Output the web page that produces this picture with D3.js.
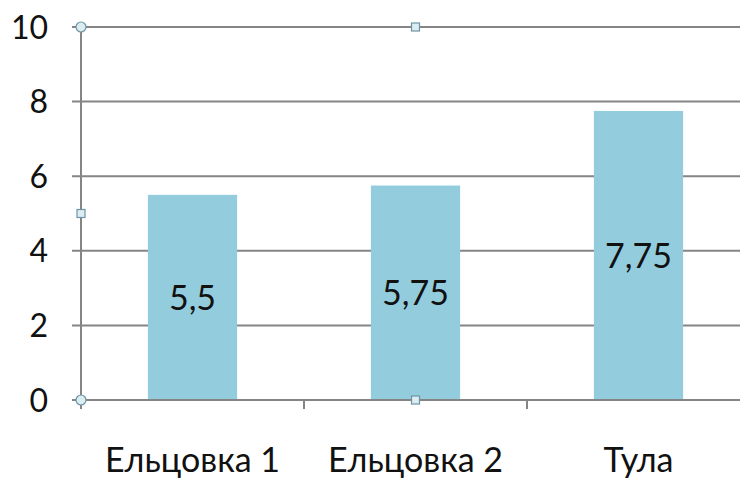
<!DOCTYPE html>
<html>
<head>
<meta charset="utf-8">
<script src="https://cdn.jsdelivr.net/npm/d3@7"></script>
<style>
  html, body { margin: 0; padding: 0; background: #fff; }
  svg { display: block; }
  text { font-family: Lato, "Open Sans", sans-serif; fill: #111; }
</style>
</head>
<body>
<svg id="chart" width="740" height="479"></svg>
<script>
const categories = ["Ельцовка 1", "Ельцовка 2", "Тула"];
const values = [5.5, 5.75, 7.75];
const yTicks = [0, 2, 4, 6, 8, 10];

const svg = d3.select("#chart");
const plotLeft = 81, plotRight = 750, plotTop = 27, plotBottom = 400;

const x = d3.scaleBand().domain(categories).range([plotLeft, plotRight])
  .paddingInner(0.6).paddingOuter(0.3);
const y = d3.scaleLinear().domain([0, 10]).range([plotBottom, plotTop]);

const grid = "#858585";
const fmt = v => String(v).replace(".", ",");
const capRatio = 0.72; // cap height of the label font relative to its size

// horizontal gridlines with short ticks left of the axis
svg.append("g").selectAll("line").data(yTicks).join("line")
  .attr("x1", plotLeft - 9).attr("x2", 740)
  .attr("y1", d => y(d)).attr("y2", d => y(d))
  .attr("stroke", grid).attr("stroke-width", 2);

// y tick labels
const yFont = 32;
svg.append("g").selectAll("text").data(yTicks).join("text")
  .attr("x", 48).attr("y", d => y(d) + yFont * capRatio / 2)
  .attr("text-anchor", "end")
  .attr("font-size", yFont)
  .text(d => d);

// bars
svg.append("g").selectAll("rect").data(values).join("rect")
  .attr("x", (d, i) => x(categories[i]))
  .attr("width", x.bandwidth())
  .attr("y", d => y(d))
  .attr("height", d => y(0) - y(d))
  .attr("fill", "#93CDDD");

// baseline redrawn over the bars
svg.append("line")
  .attr("x1", plotLeft).attr("x2", 740)
  .attr("y1", y(0)).attr("y2", y(0))
  .attr("stroke", grid).attr("stroke-width", 2);

// vertical axis
svg.append("line")
  .attr("x1", plotLeft).attr("x2", plotLeft)
  .attr("y1", y(10)).attr("y2", y(0) + 9)
  .attr("stroke", grid).attr("stroke-width", 2);

// category boundary ticks
const bounds = categories.slice(1).map(c => x(c) - x.step() * x.paddingInner() / 2);
svg.append("g").selectAll("line").data(bounds).join("line")
  .attr("x1", d => d).attr("x2", d => d)
  .attr("y1", y(0)).attr("y2", y(0) + 9)
  .attr("stroke", grid).attr("stroke-width", 2);

// value labels in the middle of each bar
const labelFont = 34;
svg.append("g").selectAll("text").data(values).join("text")
  .attr("x", (d, i) => x(categories[i]) + x.bandwidth() / 2)
  .attr("y", d => (y(d) + y(0)) / 2 + labelFont * capRatio / 2)
  .attr("text-anchor", "middle")
  .attr("font-size", labelFont)
  .text(fmt);

// category labels
svg.append("g").selectAll("text").data(categories).join("text")
  .attr("x", d => x(d) + x.bandwidth() / 2)
  .attr("y", 472)
  .attr("text-anchor", "middle")
  .attr("font-size", labelFont)
  .text(d => d);

// selection handles on the plot area frame
const midX = (plotLeft + plotRight) / 2, midY = (y(0) + y(10)) / 2;
const handleFill = "#dcedf2", handleStroke = "#6f93a6";
[[plotLeft, y(10)], [plotLeft, y(0)]].forEach(([cx, cy]) => {
  svg.append("circle").attr("cx", cx).attr("cy", cy).attr("r", 5)
    .attr("fill", handleFill).attr("stroke", handleStroke).attr("stroke-width", 1.2);
});
[[plotLeft, midY], [midX, y(10)], [midX, y(0)]].forEach(([cx, cy]) => {
  svg.append("rect").attr("x", cx - 4).attr("y", cy - 4).attr("width", 8).attr("height", 8)
    .attr("fill", handleFill).attr("stroke", handleStroke).attr("stroke-width", 1.2);
});
</script>
</body>
</html>
